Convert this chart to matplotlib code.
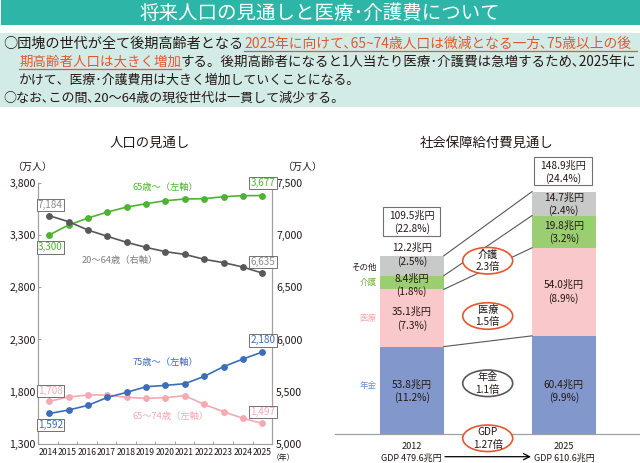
import numpy as np
import matplotlib
matplotlib.use("Agg")
import matplotlib.pyplot as plt
from matplotlib.patches import Ellipse, Rectangle

plt.rcParams["font.family"] = ["Noto Sans CJK JP", "DejaVu Sans"]

W, H = 640, 463

# left chart data
YEARS = [2014, 2015, 2016, 2017, 2018, 2019, 2020, 2021, 2022, 2023, 2024, 2025]
AGE_65_PLUS = [3300, 3395, 3462, 3519, 3567, 3599, 3628, 3644, 3647, 3666, 3676, 3677]
AGE_20_64 = [7184, 7127, 7047, 6987, 6929, 6881, 6840, 6814, 6767, 6735, 6693, 6635]
AGE_75_PLUS = [1592, 1625, 1670, 1746, 1794, 1848, 1861, 1877, 1947, 2040, 2113, 2180]
AGE_65_74 = [1708, 1750, 1769, 1769, 1746, 1737, 1743, 1762, 1679, 1609, 1546, 1497]
LEFT_TICKS = [1300, 1800, 2300, 2800, 3300, 3800]
RIGHT_TICKS = [5000, 5500, 6000, 6500, 7000, 7500]

# right chart data
BAR_YEARS = ["2012", "2025"]
PENSION = [53.8, 60.4]
MEDICAL = [35.1, 54.0]
CARE = [8.4, 19.8]
OTHER = [12.2, 14.7]

GREEN = "#4FB233"
GREY = "#595757"
BLUE = "#3D6DB8"
PINK = "#F5A9B0"
ORANGE = "#E4572E"
TXT = "#231815"
AXIS = "#9FA0A0"


def px_rect(x0, y0, x1, y1):
    return [x0 / W, 1 - y1 / H, (x1 - x0) / W, (y1 - y0) / H]


fig = plt.figure(figsize=(6.4, 4.63), dpi=100)

# page-level layer in pixel coordinates
bg = fig.add_axes([0, 0, 1, 1], zorder=0)
bg.set_xlim(0, W)
bg.set_ylim(H, 0)
bg.axis("off")
bg.add_patch(Rectangle((1, 0), 639, 25, fc="#2DB6A8", ec="none"))
bg.add_patch(Rectangle((0, 33), 640, 74, fc="#D3EBE6", ec="none"))
bg.text(320, 13.5, "将来人口の見通しと医療･介護費について", color="white", fontsize=14,
        ha="center", va="center")

bg.text(3, 43.5, "○団塊の世代が全て後期高齢者となる", color=TXT, fontsize=10.2, va="center")
bg.text(244, 43.5, "2025年に向けて､65~74歳人口は微減となる一方､75歳以上の後", color=ORANGE,
        fontsize=9.95, va="center")
bg.text(19, 62, "期高齢者人口は大きく増加", color=ORANGE, fontsize=9.7, va="center")
bg.text(181, 62, "する。後期高齢者になると1人当たり医療･介護費は急増するため､2025年に", color=TXT,
        fontsize=9.7, va="center")
bg.text(19, 80, "かけて、医療･介護費用は大きく増加していくことになる。", color=TXT, fontsize=9.3, va="center")
bg.text(3, 98, "○なお､この間､20～64歳の現役世代は一貫して減少する。", color=TXT, fontsize=9.4, va="center")
bg.plot([244, 637], [50.5, 50.5], color=ORANGE, lw=0.9)
bg.plot([19, 181], [68.5, 68.5], color=ORANGE, lw=0.9)

bg.text(150, 143, "人口の見通し", color=TXT, fontsize=9.6, ha="center", va="center")
bg.text(487, 143, "社会保障給付費見通し", color=TXT, fontsize=9.6, ha="center", va="center")

# left chart
ax = fig.add_axes(px_rect(38, 182.7, 272, 444), zorder=1)
ax.patch.set_alpha(0)
ax2 = ax.twinx()
ax2.patch.set_alpha(0)
x = np.arange(len(YEARS))
XMIN, XMAX = -0.58, 11.5
edges = np.linspace(XMIN, XMAX, len(YEARS) + 1)
ax2.plot(x, AGE_20_64, color=GREY, lw=1.2, marker="o", ms=3.9)
ax.plot(x, AGE_65_74, color=PINK, lw=1.2, marker="o", ms=3.9)
ax.plot(x, AGE_65_PLUS, color=GREEN, lw=1.2, marker="o", ms=3.9)
ax.plot(x, AGE_75_PLUS, color=BLUE, lw=1.2, marker="o", ms=3.9)
ax.set_xlim(XMIN, XMAX)
ax.set_ylim(1300, 3800)
ax2.set_ylim(5000, 7500)
ax.set_yticks(LEFT_TICKS, [f"{v:,}" for v in LEFT_TICKS])
ax2.set_yticks(RIGHT_TICKS, [f"{v:,}" for v in RIGHT_TICKS])
ax.set_xticks((edges[:-1] + edges[1:]) / 2, [str(y) for y in YEARS])
ax.set_xticks(edges, minor=True)
ax.tick_params(axis="x", which="major", length=0, labelsize=6.2, pad=3, labelcolor=TXT)
ax.tick_params(axis="x", which="minor", length=2.5, direction="in", color=AXIS, width=0.7)
ax.tick_params(axis="y", length=2.5, direction="in", color=AXIS, width=0.7, labelsize=7.6, pad=1.5,
               labelcolor=TXT)
ax2.tick_params(axis="y", length=0, labelsize=7.6, pad=3, labelcolor=TXT)
for a in (ax, ax2):
    a.spines["top"].set_visible(False)
    for s in ("left", "right", "bottom"):
        a.spines[s].set_color(AXIS)
        a.spines[s].set_linewidth(0.8)

# right chart
bx = fig.add_axes(px_rect(335, 180, 639, 434.3), zorder=1)
bx.patch.set_alpha(0)
pos = np.arange(2)
BAR_W = 0.419
bottom = np.zeros(2)
for vals, col in zip([PENSION, MEDICAL, CARE, OTHER], ["#8298CD", "#F9C8CA", "#9BCE72", "#C8C9C9"]):
    bx.bar(pos, vals, BAR_W, bottom=bottom, color=col, edgecolor="none")
    bottom = bottom + np.array(vals)
    # connector between the two bars
    bx.plot([pos[0] + BAR_W / 2, pos[1] - BAR_W / 2], bottom, color=GREY, lw=0.8)
bx.set_xlim(-0.506, 1.494)
bx.set_ylim(0, 156)
bx.axis("off")
bx.plot([-0.506, 1.494], [0, 0], color=AXIS, lw=0.9, clip_on=False)

# overlay for labels
top = fig.add_axes([0, 0, 1, 1], zorder=3)
top.set_xlim(0, W)
top.set_ylim(H, 0)
top.axis("off")
top.patch.set_alpha(0)

BOX_EDGE = "#727171"
value_boxes = [
    (50.5, 204.7, "7,184", "#8C8C8C"), (50.5, 247.3, "3,300", GREEN), (263, 183, "3,677", GREEN),
    (263, 262, "6,635", "#8C8C8C"), (263, 340.3, "2,180", BLUE), (50.5, 391, "1,708", PINK),
    (50.5, 425, "1,592", BLUE), (263, 412, "1,497", PINK),
]
for cx, cy, s, c in value_boxes:
    top.add_patch(Rectangle((cx - 13.8, cy - 6.2), 27.6, 12.4, fc="white", ec=BOX_EDGE, lw=0.7))
    top.text(cx, cy, s, color=c, fontsize=7.2, ha="center", va="center")

series_labels = [
    (165.7, 187.7, "65歳～（左軸）", GREEN), (120, 260.7, "20～64歳（右軸）", "#7D7D7D"),
    (165.7, 362.3, "75歳～（左軸）", BLUE), (170.7, 416, "65～74歳（左軸）", PINK),
]
for cx, cy, s, c in series_labels:
    top.text(cx, cy, s, color=c, fontsize=6.7, ha="center", va="center")

top.text(32, 167, "（万人）", color=TXT, fontsize=7.2, ha="center", va="center")
top.text(301.7, 167, "（万人）", color=TXT, fontsize=7.2, ha="center", va="center")
top.text(283, 458, "（年）", color=TXT, fontsize=5.6, ha="center", va="center")

for (x0, y0, x1, y1), a, b in [((383, 206.7, 440.3, 236.3), "109.5兆円", "(22.8%)"),
                               ((534.3, 156.7, 592.3, 185.3), "148.9兆円", "(24.4%)")]:
    top.add_patch(Rectangle((x0, y0), x1 - x0, y1 - y0, fc="white", ec=BOX_EDGE, lw=0.8))
    top.text((x0 + x1) / 2, y0 + 8.5, a, color=TXT, fontsize=7.3, ha="center", va="center")
    top.text((x0 + x1) / 2, y0 + 21.5, b, color=TXT, fontsize=7.3, ha="center", va="center")

bar_labels = [
    (411.8, 248, "12.2兆円", "(2.5%)"), (411.8, 278.3, "8.4兆円", "(1.8%)"),
    (411.8, 312, "35.1兆円", "(7.3%)"), (411.8, 384.7, "53.8兆円", "(11.2%)"),
    (563.8, 197.3, "14.7兆円", "(2.4%)"), (563.8, 225.7, "19.8兆円", "(3.2%)"),
    (563.8, 285, "54.0兆円", "(8.9%)"), (563.8, 384.7, "60.4兆円", "(9.9%)"),
]
for cx, cy, a, b in bar_labels:
    top.text(cx, cy, a, color=TXT, fontsize=7.3, ha="center", va="center")
    top.text(cx, cy + 13.3, b, color=TXT, fontsize=7.3, ha="center", va="center")

for y, s, c in [(267.7, "その他", TXT), (282.7, "介護", "#6FB23F"), (318, "医療", PINK), (385.7, "年金", "#6F8FCF")]:
    top.text(376.7, y, s, color=c, fontsize=6.1, ha="right", va="center")

for cy, a, b, ec in [(260.7, "介護", "2.3倍", ORANGE), (316, "医療", "1.5倍", ORANGE),
                     (383.3, "年金", "1.1倍", GREY), (438.3, "GDP", "1.27倍", ORANGE)]:
    top.add_patch(Ellipse((487.7, cy), 50, 26.5, fc="white", ec=ec, lw=1.2))
    top.text(487.7, cy - 6.3, a, color=TXT, fontsize=7.3, ha="center", va="center")
    top.text(487.7, cy + 6.3, b, color=TXT, fontsize=7.3, ha="center", va="center")

top.text(411.7, 446.7, BAR_YEARS[0], color=TXT, fontsize=6.6, ha="center", va="center")
top.text(563.8, 446.7, BAR_YEARS[1], color=TXT, fontsize=6.6, ha="center", va="center")
top.text(411, 458, "GDP 479.6兆円", color=TXT, fontsize=6.5, ha="center", va="center")
top.text(564, 458, "GDP 610.6兆円", color=TXT, fontsize=6.5, ha="center", va="center")
top.annotate("", xy=(531, 456.7), xytext=(445, 456.7),
             arrowprops=dict(arrowstyle="->", color="black", lw=0.9, shrinkA=0, shrinkB=0, mutation_scale=11))

fig.savefig("out.png", dpi=100)
